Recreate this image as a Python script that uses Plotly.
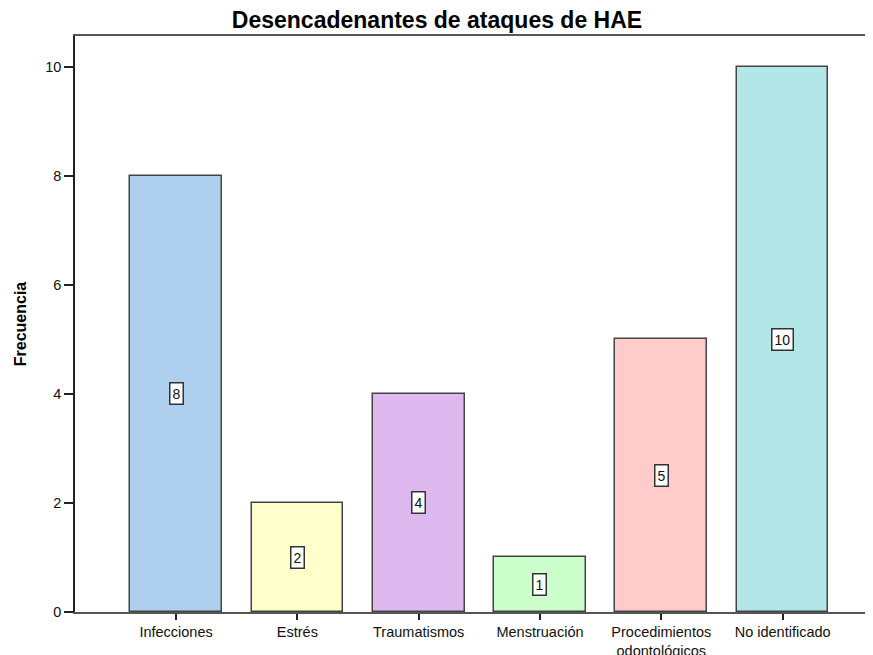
import plotly.graph_objects as go

categories = ["Infecciones", "Estrés", "Traumatismos", "Menstruación",
              "Procedimientos<br>odontológicos", "No identificado"]
frecuencia = [8, 2, 4, 1, 5, 10]
colors = ["#AFCFEE", "#FFFFCB", "#DDB9F0", "#CBFECB", "#FFCBCB", "#B3E6E7"]
y_ticks = [0, 2, 4, 6, 8, 10]

x_idx = list(range(len(categories)))
FONT = "Liberation Sans, Arial, sans-serif"

# page body has an 8px default margin, so the figure is sized to fit the window
W, H = 865, 647

fig = go.Figure()
fig.add_trace(go.Bar(
    x=x_idx, y=frecuencia, width=0.756,
    marker=dict(color=colors, line=dict(color="#444", width=1.5)),
    hoverinfo="skip",
))

for xi, v in zip(x_idx, frecuencia):
    fig.add_annotation(
        x=xi, y=v / 2, text=str(v), showarrow=False,
        font=dict(family=FONT, size=14, color="#111"),
        bgcolor="white", bordercolor="#333", borderwidth=1.5, borderpad=2,
    )

fig.update_layout(
    width=W, height=H,
    margin=dict(l=67, r=0, t=28, b=43, autoexpand=False),
    paper_bgcolor="white", plot_bgcolor="white",
    showlegend=False,
    bargap=0,
    title=dict(text="<b>Desencadenantes de ataques de HAE</b>",
               x=(437 - 8) / W, xanchor="center", y=1 - 12 / H, yanchor="middle",
               font=dict(family=FONT, size=23, color="#000")),
    font=dict(family=FONT, size=14, color="#111"),
)

fig.update_xaxes(
    range=[-0.833, 5.745], automargin=False,
    tickmode="array", tickvals=x_idx, ticktext=categories,
    showline=True, linecolor="#555", linewidth=1.5, mirror=True,
    ticks="outside", ticklen=6, tickcolor="#222", tickwidth=1.5,
    showgrid=False, zeroline=False,
    tickfont=dict(size=14.5),
)
fig.update_yaxes(
    range=[0, 10.56], automargin=False,
    tickmode="array", tickvals=y_ticks,
    showline=True, linecolor="#222", linewidth=1.5,
    ticks="outside", ticklen=9, tickcolor="#222", tickwidth=1.5,
    showgrid=False, zeroline=False,
    tickfont=dict(size=14.5),
    title=dict(text="<b>Frecuencia</b>", font=dict(size=16, color="#000"), standoff=15),
)

fig.write_html("out.html")
